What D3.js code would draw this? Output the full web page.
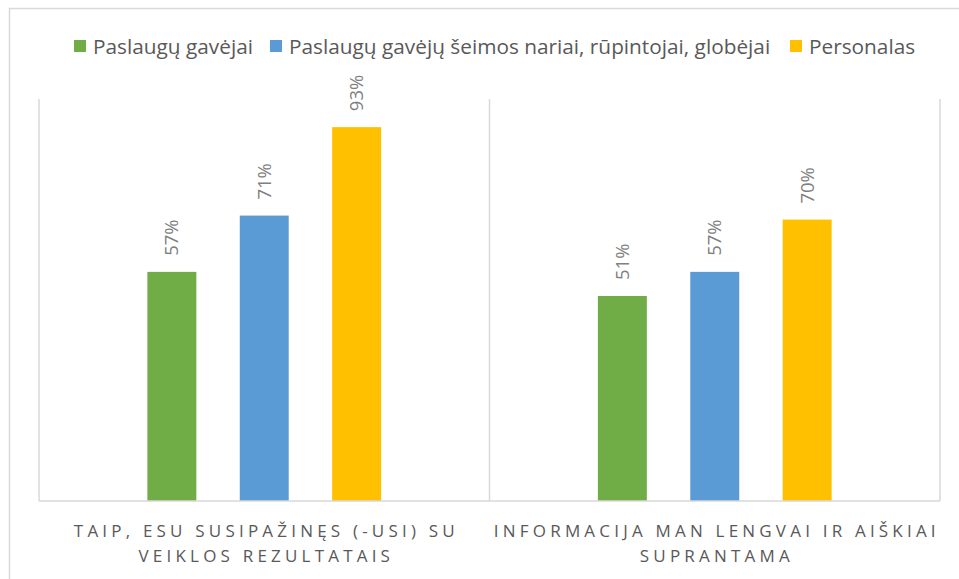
<!DOCTYPE html>
<html>
<head>
<meta charset="utf-8">
<script src="https://cdn.jsdelivr.net/npm/d3@7"></script>
<style>
  body { margin: 0; background: #fff; }
  svg { display: block; font-family: "Open Sans", sans-serif; }
</style>
</head>
<body>
<svg width="959" height="579"></svg>
<script>
// categories and series
var categories = ["TAIP, ESU SUSIPAŽINĘS (-USI) SU|VEIKLOS REZULTATAIS",
                  "INFORMACIJA MAN LENGVAI IR AIŠKIAI|SUPRANTAMA"];
var seriesNames = ["Paslaugų gavėjai", "Paslaugų gavėjų šeimos nariai, rūpintojai, globėjai", "Personalas"];
var seriesColors = ["#70AD47", "#5B9BD5", "#FFC000"];
var gavejai = [0.57, 0.51];
var seimos = [0.71, 0.57];
var personalas = [0.93, 0.70];

var svg = d3.select("svg");
var plotL = 39, plotR = 940, plotT = 99, plotB = 501;

// chart border
svg.append("rect")
  .attr("x", 9.5).attr("y", 8.5)
  .attr("width", 960).attr("height", 600)
  .attr("fill", "none").attr("stroke", "#D9D9D9").attr("stroke-width", 1.5);

var x0 = d3.scaleBand().domain(d3.range(categories.length)).range([plotL, plotR]).padding(0);
var x1 = d3.scaleBand().domain(d3.range(seriesNames.length)).range([0, x0.bandwidth()])
  .paddingInner(0.47).paddingOuter(1.173);
var y = d3.scaleLinear().domain([0, 1]).range([plotB, plotT]);

// vertical category separators
var seps = d3.range(categories.length + 1).map(function(i){ return plotL + i * x0.bandwidth(); });
svg.append("g").selectAll("line").data(seps).enter().append("line")
  .attr("x1", d => d).attr("x2", d => d)
  .attr("y1", plotT).attr("y2", plotB)
  .attr("stroke", "#D9D9D9").attr("stroke-width", 1.5);

var data = [];
var vals = [gavejai, seimos, personalas];
for (var c = 0; c < categories.length; c++) {
  for (var s = 0; s < seriesNames.length; s++) {
    data.push({c: c, s: s, v: vals[s][c]});
  }
}

svg.append("g").selectAll("rect").data(data).enter().append("rect")
  .attr("x", d => x0(d.c) + x1(d.s))
  .attr("y", d => y(d.v))
  .attr("width", x1.bandwidth())
  .attr("height", d => plotB - y(d.v))
  .attr("fill", d => seriesColors[d.s]);

// baseline
svg.append("line")
  .attr("x1", plotL).attr("x2", plotR).attr("y1", plotB).attr("y2", plotB)
  .attr("stroke", "#D9D9D9").attr("stroke-width", 1.5);

// data labels
svg.append("g").selectAll("text").data(data).enter().append("text")
  .attr("transform", d => "translate(" + (x0(d.c) + x1(d.s) + x1.bandwidth() / 2 + 6.5) + "," + (y(d.v) - 16) + ") rotate(-90)")
  .attr("text-anchor", "start")
  .attr("font-size", 18.5)
  .attr("fill", "#808080")
  .text(d => Math.round(d.v * 100) + "%");

// category labels
categories.forEach(function(cat, i) {
  var lines = cat.split("|");
  var t = svg.append("text")
    .attr("text-anchor", "middle")
    .attr("font-size", 17)
    .attr("letter-spacing", 4.2)
    .attr("fill", "#595959");
  lines.forEach(function(l, j) {
    t.append("tspan")
      .attr("x", x0(i) + x0.bandwidth() / 2 + 2.1)
      .attr("y", 537 + j * 25)
      .text(l);
  });
});

// legend
var legendX = [74, 270, 790];
var lg = svg.append("g").selectAll("g").data(seriesNames).enter().append("g")
  .attr("transform", (d, i) => "translate(" + legendX[i] + ",0)");
lg.append("rect").attr("x", 0).attr("y", 40).attr("width", 12).attr("height", 12)
  .attr("fill", (d, i) => seriesColors[i]);
lg.append("text").attr("x", 19).attr("y", 54)
  .attr("font-size", 20.8).attr("fill", "#595959")
  .text(d => d);
</script>
</body>
</html>
